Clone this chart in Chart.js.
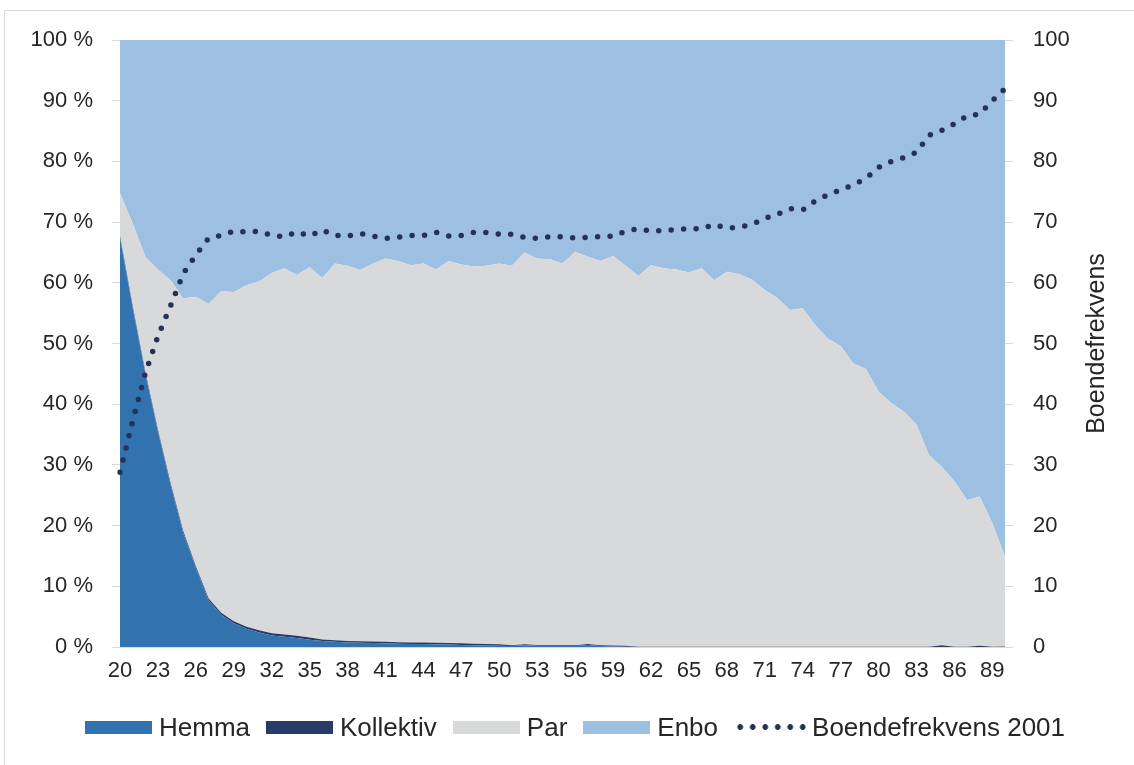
<!DOCTYPE html>
<html>
<head>
<meta charset="utf-8">
<script src="https://cdn.jsdelivr.net/npm/chart.js@4.4.1/dist/chart.umd.min.js"></script>
<style>
  html, body { margin: 0; padding: 0; background: #fff; }
  #wrap { position: relative; width: 1134px; height: 765px; overflow: hidden; font-family: "Liberation Sans", Arial, sans-serif; }
  #frame { position: absolute; left: 4px; top: 10px; width: 1300px; height: 900px; border: 1px solid #d9d9d9; box-sizing: border-box; pointer-events: none; }
  canvas { position: absolute; left: 0; top: 0; }
  #legend { position: absolute; left: 85px; top: 712px; height: 30px; display: flex; align-items: center; font-size: 26px; color: #262626; white-space: nowrap; }
  .box { width: 67px; height: 13px; margin-right: 7px; }
  .txt { margin-right: 16px; line-height: 30px; }
  .dots { width: 72px; height: 6px; margin-right: 6px;
          background-image: radial-gradient(circle, #263157 2.6px, rgba(38,49,87,0) 3.2px);
          background-size: 12.5px 6px; background-repeat: repeat-x; background-position: 0 0; }
</style>
</head>
<body>
<div id="wrap">
  <div id="frame"></div>
  <canvas id="c" width="1134" height="765"></canvas>
  <div id="legend"></div>
</div>
<script>
// ---- Data ----
const ages = [20,21,22,23,24,25,26,27,28,29,30,31,32,33,34,35,36,37,38,39,40,41,42,43,44,45,46,47,48,49,50,51,52,53,54,55,56,57,58,59,60,61,62,63,64,65,66,67,68,69,70,71,72,73,74,75,76,77,78,79,80,81,82,83,84,85,86,87,88,89,90];
const xTickLabels = [20,23,26,29,32,35,38,41,44,47,50,53,56,59,62,65,68,71,74,77,80,83,86,89];
const yLeftTicks = [0,10,20,30,40,50,60,70,80,90,100];
const yRightTicks = [0,10,20,30,40,50,60,70,80,90,100];

const hemma = [67.4,55.9,45.1,35.5,26.7,18.8,13.0,7.7,5.3,3.9,3.0,2.4,1.9,1.7,1.5,1.2,1.0,0.85,0.75,0.7,0.65,0.6,0.55,0.5,0.5,0.45,0.4,0.35,0.3,0.25,0.2,0.15,0.3,0.2,0.15,0.15,0.15,0.35,0.15,0.1,0.05,0,0,0,0,0,0,0,0,0,0,0,0,0,0,0,0,0,0,0,0,0,0,0,0,0,0,0,0,0,0];
const kollektiv = [0.3,0.3,0.3,0.3,0.3,0.3,0.3,0.35,0.35,0.35,0.35,0.35,0.35,0.35,0.35,0.35,0.25,0.25,0.25,0.25,0.25,0.25,0.25,0.25,0.25,0.25,0.25,0.25,0.25,0.25,0.25,0.15,0.15,0.15,0.15,0.15,0.15,0.15,0.15,0.15,0.15,0.05,0.05,0.05,0.05,0.05,0.05,0.05,0.05,0.05,0.05,0.05,0.05,0.05,0.05,0.05,0.05,0.05,0.05,0.05,0.05,0.05,0.05,0.05,0.05,0.3,0.05,0.05,0.2,0.05,0.1];
const par = [7.1,13.6,18.9,26.4,33.4,38.3,44.4,48.45,52.95,54.25,56.25,57.45,59.35,60.35,59.45,61.05,59.55,62.1,61.8,61.15,62.3,63.15,62.8,62.15,62.45,61.5,62.95,62.4,62.15,62.3,62.75,62.5,64.55,63.65,63.6,62.9,64.8,63.8,63.3,64.15,62.6,61.05,62.85,62.35,62.15,61.65,62.35,60.35,61.75,61.35,60.45,58.75,57.45,55.45,55.75,52.95,50.75,49.55,46.65,45.75,42.05,40.15,38.75,36.55,31.55,29.4,27.25,24.15,24.6,20.35,14.8];
const enbo = [25.2,30.2,35.7,37.8,39.6,42.6,42.3,43.5,41.4,41.5,40.4,39.8,38.4,37.6,38.7,37.4,39.2,36.8,37.2,37.9,36.8,36.0,36.4,37.1,36.8,37.8,36.4,37.0,37.3,37.2,36.8,37.2,35.0,36.0,36.1,36.8,34.9,35.7,36.4,35.6,37.2,38.9,37.1,37.6,37.8,38.3,37.6,39.6,38.2,38.6,39.5,41.2,42.5,44.5,44.2,47.0,49.2,50.4,53.3,54.2,57.9,59.8,61.2,63.4,68.4,70.3,72.7,75.8,75.2,79.6,85.1];
const boendefrekvens = [28.8,37.2,45.1,51.2,56.2,61.5,64.6,67.3,67.8,68.5,68.4,68.5,67.8,67.6,68.4,67.7,68.7,67.8,67.7,68.1,67.7,67.3,67.5,67.8,67.8,68.3,67.7,67.8,68.3,68.3,68.0,68.0,67.5,67.3,67.6,67.6,67.4,67.5,67.6,67.7,68.5,68.9,68.5,68.6,68.8,68.9,68.9,69.6,69.0,69.2,69.6,70.6,71.3,72.2,72.0,73.5,74.5,75.3,76.1,77.2,79.0,80.0,80.6,81.5,84.3,85.1,86.2,87.5,87.8,90.0,92.0];

const seriesNames = ['Hemma','Kollektiv','Par','Enbo','Boendefrekvens 2001'];
const rightAxisTitle = 'Boendefrekvens';

// ---- Style ----
const C = { hemma:'#3172af', kollektiv:'#283a66', par:'#d8d9db', enbo:'#9dbfe1', line:'#263157', text:'#262626', tick:'#d9d9d9' };
const FONT = '"Liberation Sans", Arial, sans-serif';

const rightTitlePlugin = {
  id: 'rightTitle',
  afterDraw(chart) {
    const { ctx, chartArea } = chart;
    ctx.save();
    ctx.font = '25px ' + FONT;
    ctx.fillStyle = C.text;
    ctx.textAlign = 'center';
    ctx.textBaseline = 'middle';
    ctx.translate(1097, (chartArea.top + chartArea.bottom) / 2);
    ctx.rotate(-Math.PI / 2);
    ctx.fillText(rightAxisTitle, 0, 0);
    ctx.restore();
  }
};

const area = (label, data, color, fill) => ({
  type: 'line', label, data, yAxisID: 'y', fill,
  backgroundColor: color, borderColor: color, borderWidth: 0,
  pointRadius: 0, pointHoverRadius: 0, tension: 0
});

new Chart(document.getElementById('c'), {
  type: 'line',
  data: {
    labels: ages,
    datasets: [
      { type: 'line', label: seriesNames[4], data: boendefrekvens, yAxisID: 'y2', fill: false,
        borderColor: C.line, borderWidth: 5.5, borderDash: [0, 12.5], borderCapStyle: 'round',
        pointRadius: 0, pointHoverRadius: 0, tension: 0 },
      area(seriesNames[0], hemma, C.hemma, 'origin'),
      area(seriesNames[1], kollektiv, C.kollektiv, '-1'),
      area(seriesNames[2], par, C.par, '-1'),
      area(seriesNames[3], enbo, C.enbo, '-1')
    ]
  },
  options: {
    responsive: false,
    animation: false,
    layout: { padding: { top: 40, left: 0, right: 0, bottom: 0 }, autoPadding: false },
    plugins: { legend: { display: false }, tooltip: { enabled: false } },
    scales: {
      x: {
        type: 'category', offset: false,
        grid: { display: false, drawTicks: false },
        border: { display: true, color: C.tick, width: 1 },
        ticks: {
          autoSkip: false, maxRotation: 0, minRotation: 0, padding: 11,
          color: C.text, font: { family: FONT, size: 22 },
          callback: (v, i) => xTickLabels.includes(ages[i]) ? String(ages[i]) : ''
        },
        afterFit: s => { s.height = 118; }
      },
      y: {
        position: 'left', stacked: true, min: 0, max: 100,
        afterBuildTicks: s => { s.ticks = yLeftTicks.map(v => ({ value: v })); },
        grid: { drawOnChartArea: false, drawTicks: true, tickLength: 8, color: C.tick },
        border: { display: false },
        ticks: { padding: 19, color: C.text, font: { family: FONT, size: 22 }, callback: v => v + ' %' },
        afterFit: s => { s.width = 120; }
      },
      y2: {
        position: 'right', stacked: false, min: 0, max: 100,
        afterBuildTicks: s => { s.ticks = yRightTicks.map(v => ({ value: v })); },
        grid: { drawOnChartArea: false, drawTicks: true, tickLength: 8, color: C.tick },
        border: { display: false },
        ticks: { padding: 20, color: C.text, font: { family: FONT, size: 22 }, callback: v => String(v) },
        afterFit: s => { s.width = 129; }
      }
    }
  },
  plugins: [rightTitlePlugin]
});

// ---- HTML legend ----
const legend = document.getElementById('legend');
const legendColors = [C.hemma, C.kollektiv, C.par, C.enbo];
seriesNames.forEach((name, i) => {
  const sw = document.createElement('span');
  if (i < 4) { sw.className = 'box'; sw.style.background = legendColors[i]; }
  else { sw.className = 'dots'; }
  const t = document.createElement('span');
  t.className = 'txt';
  t.textContent = name;
  legend.appendChild(sw);
  legend.appendChild(t);
});
</script>
</body>
</html>
